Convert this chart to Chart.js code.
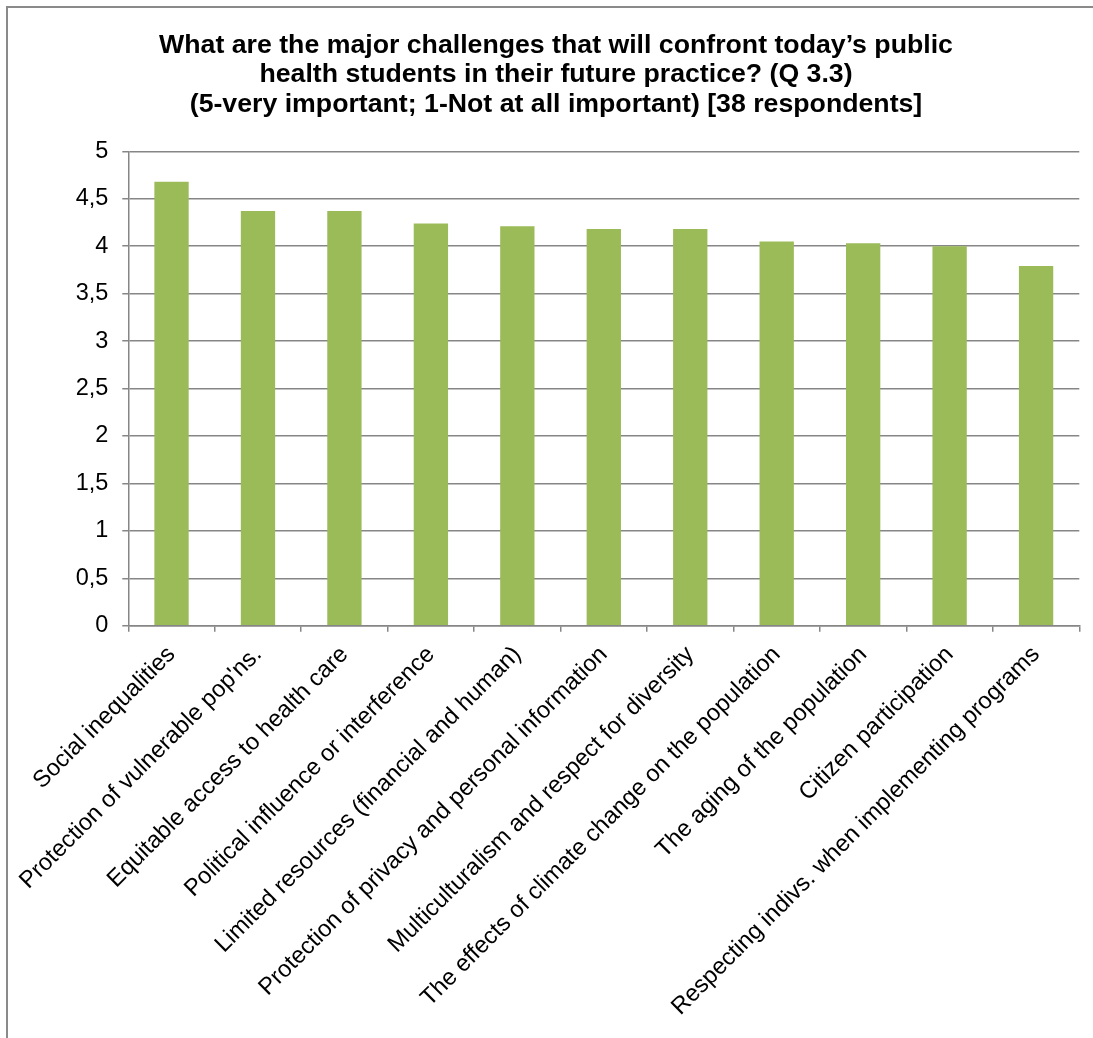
<!DOCTYPE html>
<html>
<head>
<meta charset="utf-8">
<script src="https://cdn.jsdelivr.net/npm/chart.js@4.4.1/dist/chart.umd.min.js"></script>
<style>
  html, body { margin: 0; padding: 0; background: #ffffff; overflow: hidden; }
  #frame { position: absolute; left: 6px; top: 6px; width: 1200px; height: 1200px;
           border-left: 2px solid #8a8a8a; border-top: 2px solid #8a8a8a; }
  #wrap { position: absolute; left: 0; top: 0; width: 1093px; height: 1038px; }
</style>
</head>
<body>
<div id="frame"></div>
<div id="wrap"><canvas id="c" width="1093" height="1038"></canvas></div>
<script>
const titleLines = [
  "What are the major challenges that will confront today\u2019s public",
  "health students in their future practice? (Q 3.3)",
  "(5-very important; 1-Not at all important) [38 respondents]"
];
const categories = [
  "Social inequalities",
  "Protection of vulnerable pop'ns.",
  "Equitable access to health care",
  "Political influence or interference",
  "Limited resources (financial and human)",
  "Protection of privacy and personal information",
  "Multiculturalism and respect for diversity",
  "The effects of climate change on the population",
  "The aging of the population",
  "Citizen participation",
  "Respecting indivs. when implementing programs"
];
const meanScores = [4.68, 4.37, 4.37, 4.24, 4.21, 4.18, 4.18, 4.05, 4.03, 4.00, 3.79];
const yTickLabels = ["0", "0,5", "1", "1,5", "2", "2,5", "3", "3,5", "4", "4,5", "5"];

const FONT = "'Liberation Sans', Arial, sans-serif";
const GRID = "#868686";

new Chart(document.getElementById("c"), {
  type: "bar",
  data: {
    labels: categories,
    datasets: [{
      data: meanScores,
      backgroundColor: "#9BBB59",
      borderWidth: 0,
      barPercentage: 0.397,
      categoryPercentage: 1.0
    }]
  },
  options: {
    responsive: false,
    devicePixelRatio: 1,
    animation: false,
    layout: { padding: { top: 20, left: 32.7, right: 13.7, bottom: 0 } },
    plugins: {
      legend: { display: false },
      tooltip: { enabled: false },
      title: {
        display: true,
        text: titleLines,
        color: "#000000",
        font: { family: FONT, size: 26.7, weight: "bold", lineHeight: "29.5px" },
        padding: { top: 10.5, bottom: 32.3 }
      }
    },
    scales: {
      x: {
        grid: { display: true, drawOnChartArea: false, drawTicks: true, tickLength: 6,
                color: GRID, lineWidth: 1.5, offset: true },
        border: { display: true, color: GRID, width: 1.5 },
        ticks: { autoSkip: false, minRotation: 45, maxRotation: 45, padding: 9,
                 color: "#000000", font: { family: FONT, size: 23.7 } },
        afterFit: function (s) { s.height = 412.3; }
      },
      y: {
        min: 0, max: 5,
        grid: { color: GRID, lineWidth: 1.5, drawTicks: true, tickLength: 6 },
        border: { display: true, color: GRID, width: 1.5 },
        ticks: { stepSize: 0.5, padding: 14, color: "#000000",
                 font: { family: FONT, size: 23.5 },
                 callback: function (v, i) { return yTickLabels[i]; } },
        afterFit: function (s) { s.width = 95.6; }
      }
    }
  }
});
</script>
</body>
</html>
